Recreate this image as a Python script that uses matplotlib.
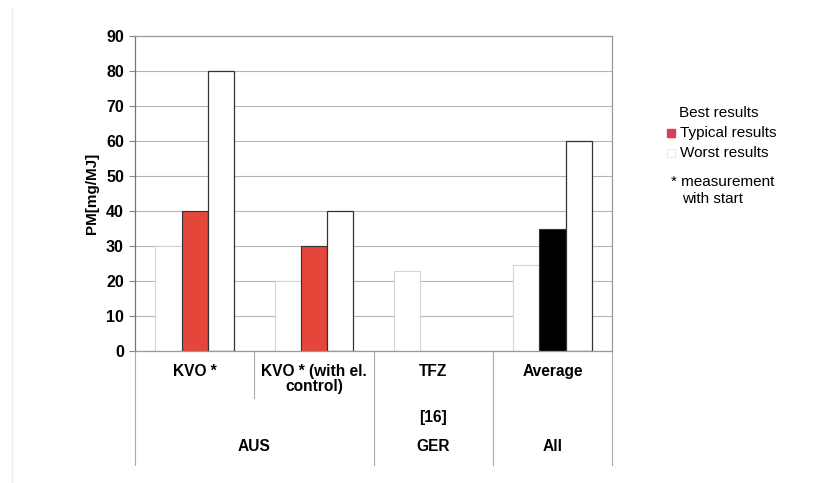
import matplotlib
matplotlib.use('Agg')
import matplotlib.pyplot as plt
import numpy as np

plt.rcParams['font.family'] = ['Liberation Sans', 'DejaVu Sans']

# data
categories = ['KVO *', 'KVO * (with el.\ncontrol)', 'TFZ', 'Average']
countries = ['AUS', 'GER', 'All']
best = [30, 20, 23, 24.5]
typical = [40, 30, 0, 35]
worst = [80, 40, 0, 60]
typical_colours = ['#e5463a', '#e5463a', '#e5463a', '#000000']

fig = plt.figure(figsize=(8.37, 4.83), dpi=100)
ax = fig.add_axes([0.1613, 0.2733, 0.57, 0.652])

x = np.arange(len(categories))
w = 0.22

ax.bar(x - w, best, w, color='white', edgecolor='#d4d4d4', linewidth=0.8, zorder=2)
for i in range(len(categories)):
    if typical[i] > 0:
        ax.bar(x[i], typical[i], w, color=typical_colours[i], edgecolor='#333333', linewidth=0.8, zorder=2)
    if worst[i] > 0:
        ax.bar(x[i] + w, worst[i], w, color='white', edgecolor='#333333', linewidth=0.9, zorder=2)

ax.set_xlim(-0.5, 3.5)
ax.set_ylim(0, 90)
ax.set_yticks(np.arange(0, 91, 10))
ax.yaxis.grid(True, color='#b5b5b5', linewidth=0.8, zorder=0)
ax.set_axisbelow(True)
ax.set_xticks([])
for lab in ax.get_yticklabels():
    lab.set_fontweight('bold')
ax.tick_params(axis='y', labelsize=11.5, length=4, width=0.8, color='#888888', pad=4)
ax.set_ylabel('PM[mg/MJ]', fontsize=11, fontweight='bold', labelpad=5)
for s in ax.spines.values():
    s.set_color('#999999')
    s.set_linewidth(0.9)
ax.spines['left'].set_color('#777777')

# category table under the axis
tr = ax.get_xaxis_transform()
seps = [(-0.5, -0.362), (0.5, -0.149), (1.5, -0.362), (2.5, -0.362), (3.5, -0.362)]
for sx, sy in seps:
    ax.plot([sx, sx], [0, sy], transform=tr, color='#aaaaaa', lw=0.8, clip_on=False)

for i, c in enumerate(categories):
    ax.text(x[i], -0.04, c, transform=tr, ha='center', va='top', fontsize=11.2,
            fontweight='bold', linespacing=1.0)
ax.text(2, -0.21, '[16]', transform=tr, ha='center', va='center', fontsize=11.2, fontweight='bold')
country_pos = [0.5, 2, 3]
for cx, c in zip(country_pos, countries):
    ax.text(cx, -0.302, c, transform=tr, ha='center', va='center', fontsize=11.2, fontweight='bold')

# legend drawn by hand
W, H = 837, 483
def fx(px):
    return px / W
def fy(py):
    return 1 - py / H

fig.text(fx(679), fy(113), 'Best results', fontsize=11, va='center')
fig.patches.append(plt.Rectangle((fx(667), fy(137)), 8 / W, 8 / H, transform=fig.transFigure,
                                 color='#d8405a', figure=fig))
fig.text(fx(680), fy(133), 'Typical results', fontsize=11, va='center')
fig.patches.append(plt.Rectangle((fx(667), fy(157)), 8 / W, 8 / H, transform=fig.transFigure,
                                 facecolor='white', edgecolor='#e6e6e6', lw=0.6, figure=fig))
fig.text(fx(680), fy(153), 'Worst results', fontsize=11, va='center')
fig.text(fx(671), fy(182), '* measurement', fontsize=11, va='center')
fig.text(fx(682), fy(199), 'with start', fontsize=11, va='center')

# faint frame on the left of the picture
fig.lines.append(plt.Line2D([fx(12), fx(12)], [fy(9), fy(483)], transform=fig.transFigure,
                            color='#ebebeb', lw=1, figure=fig))

fig.savefig('out.png', dpi=100)
